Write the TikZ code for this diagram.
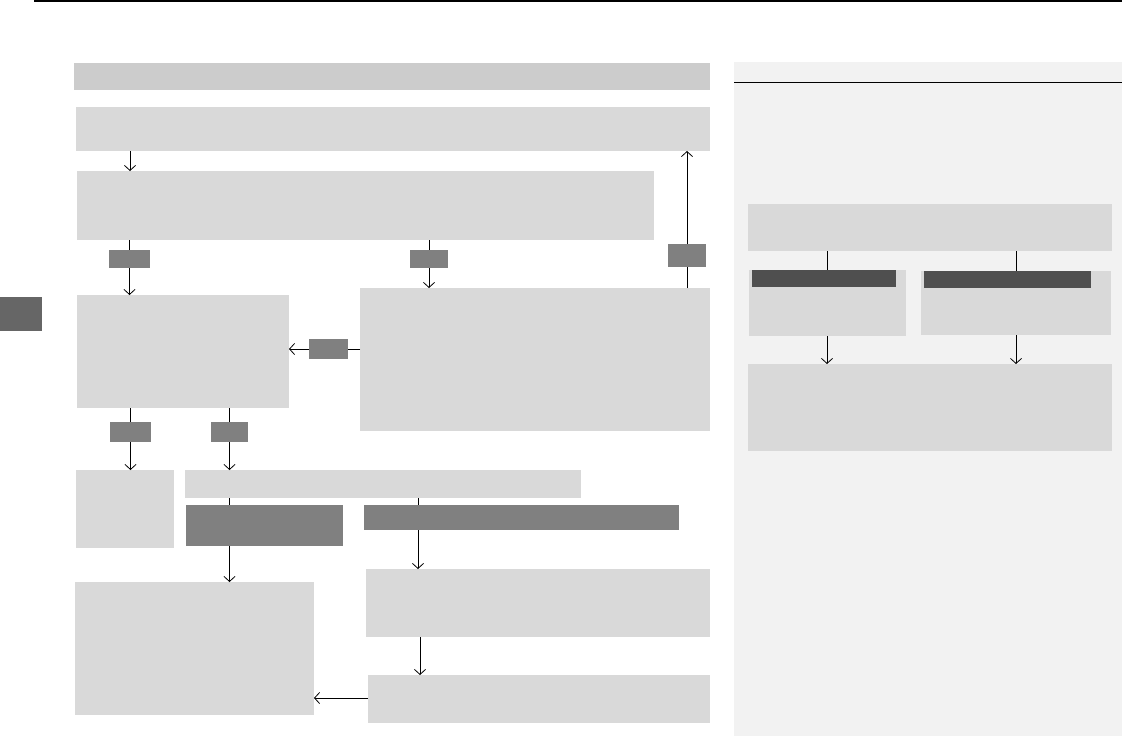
\documentclass[tikz,border=0pt]{standalone}
\usetikzlibrary{arrows.meta}
\definecolor{hdr}{HTML}{CCCCCC}
\definecolor{lbox}{HTML}{D9D9D9}
\definecolor{dbox}{HTML}{808080}
\definecolor{vdark}{HTML}{4F4F4F}
\definecolor{tabc}{HTML}{666666}
\definecolor{panel}{HTML}{F2F2F2}
\tikzset{
  boxbase/.style={draw=none, inner sep=0pt, outer sep=0pt, anchor=north west},
  lightbox/.style={boxbase, fill=lbox},
  darkbox/.style={boxbase, fill=dbox},
  vdarkbox/.style={boxbase, fill=vdark},
  conn/.style={line width=0.9pt, black},
  arr/.style={conn, -{Straight Barb[length=5pt, width=11pt, line width=0.8pt]}},
}
\newcommand{\bx}[6]{\node[#1, minimum width=#4, minimum height=#5] (#6) at (#2,#3) {};}
\begin{document}
\begin{tikzpicture}[x=1pt,y=-1pt]
\useasboundingbox (0,0) rectangle (1122,736);
% top rule
\draw[line width=1.4pt] (34,0.8) -- (1122,0.8);
% side tab
\bx{boxbase, fill=tabc}{0}{297}{42}{34}{tab}
% right panel
\bx{boxbase, fill=panel}{734}{62}{388}{674}{panelbg}
\draw[line width=0.9pt] (panelbg.west |- 0,82) -- (panelbg.east |- 0,82);
% header
\bx{boxbase, fill=hdr}{74}{63}{636}{27}{hdrbar}
% main boxes
\bx{lightbox}{76}{107}{634}{44}{A}
\bx{lightbox}{77}{171}{577}{69}{B}
\bx{lightbox}{360}{288}{350}{143}{D}
\bx{lightbox}{77}{295}{212}{113}{C}
\bx{lightbox}{76}{470}{98}{78}{E}
\bx{lightbox}{185}{470}{396}{28}{F}
\bx{darkbox}{186}{505}{157}{41}{G}
\bx{darkbox}{364}{505}{315}{25}{I}
\bx{lightbox}{366}{569}{344}{68}{J}
\bx{lightbox}{368}{675}{342}{48}{K}
\bx{lightbox}{75}{582}{239}{133}{H}
% label boxes
\bx{darkbox}{109}{250}{41}{18}{l1}
\bx{darkbox}{410}{250}{38}{18}{l2}
\bx{darkbox}{668}{244}{38}{23}{l3}
\bx{darkbox}{309}{339}{39}{20}{l4}
\bx{darkbox}{110}{422}{41}{20}{l5}
\bx{darkbox}{211}{422}{37}{20}{l6}
% right panel boxes
\bx{lightbox}{748}{204}{364}{47}{R1}
\bx{lightbox}{749}{270}{157}{66}{R2}
\bx{vdarkbox}{752}{270}{144}{17}{R2h}
\bx{lightbox}{921}{271}{190}{64}{R3}
\bx{vdarkbox}{924}{271}{167}{17}{R3h}
\bx{lightbox}{748}{364}{364}{87}{R4}
% connectors
\draw[arr] (130,151) coordinate (a1) -- (a1 |- B.north);
\draw[conn] (l1 |- B.south) -- (l1.north);
\draw[arr] (l1.south) -- (l1 |- C.north);
\draw[conn] (l2 |- B.south) -- (l2.north);
\draw[arr] (l2.south) -- (l2 |- D.north);
\draw[conn] (l3 |- D.north) -- (l3.south);
\draw[arr] (l3.north) -- (l3 |- A.south);
\draw[conn] (D.west |- l4) -- (l4.east);
\draw[arr] (l4.west) -- (C.east |- l4);
\draw[conn] (l5 |- C.south) -- (l5.north);
\draw[arr] (l5.south) -- (l5 |- E.north);
\draw[conn] (l6 |- C.south) -- (l6.north);
\draw[arr] (l6.south) -- (l6 |- F.north);
\draw[conn] (F.south -| l6) -- (G.north -| l6);
\draw[arr] (G.south -| l6) -- (H.north -| l6);
\draw[conn] (418,498) coordinate (f2) -- (f2 |- I.north);
\draw[arr] (I.south -| f2) -- (J.north -| f2);
\draw[arr] (420,637) coordinate (j2) -- (j2 |- K.north);
\draw[arr] (K.west |- 0,698) coordinate (k2) -- (H.east |- k2);
% right panel connectors
\draw[conn] (827,251) coordinate (r1) -- (r1 |- R2.north);
\draw[conn] (1016,251) coordinate (r2) -- (r2 |- R3.north);
\draw[arr] (R2.south -| r1) -- (R4.north -| r1);
\draw[arr] (R3.south -| r2) -- (R4.north -| r2);
\end{tikzpicture}
\end{document}
